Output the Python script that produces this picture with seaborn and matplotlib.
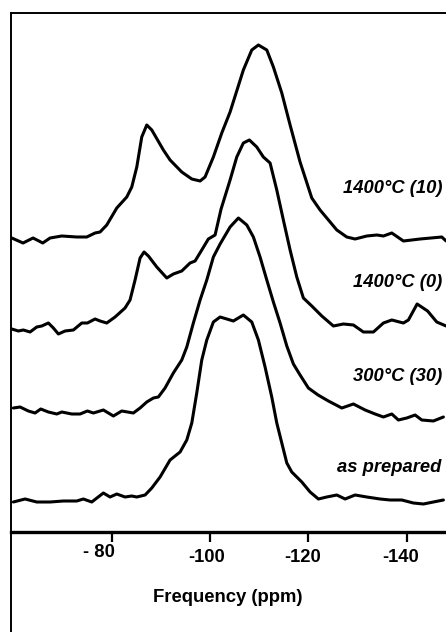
import numpy as np
import pandas as pd
import matplotlib
matplotlib.use("Agg")
import matplotlib.pyplot as plt
from matplotlib import transforms as mtransforms
from matplotlib.lines import Line2D
import seaborn as sns

# ---------------- data ----------------
# 1400°C (10)
ppm_1400_10 = [-59.65, -61.95, -63.99, -65.96, -67.45, -69.83, -72.88, -74.91, -76.60, -77.62,
               -78.98, -81.02, -83.05, -84.07, -85.09, -86.10, -87.12, -88.14, -90.50, -91.86,
               -94.24, -96.28, -97.97, -98.98, -100.67, -102.38, -104.07, -106.77, -108.48, -109.83,
               -111.54, -112.88, -114.59, -116.28, -118.31, -120.69, -122.38, -125.78, -127.81, -129.50,
               -131.88, -133.92, -135.26, -136.97, -139.33, -142.73, -147.14, -148.02]
int_1400_10 = [0.00, -0.05, 0.00, -0.05, 0.00, 0.02, 0.01, 0.01, 0.05, 0.06,
               0.13, 0.30, 0.41, 0.51, 0.71, 1.01, 1.13, 1.08, 0.88, 0.78,
               0.66, 0.59, 0.57, 0.61, 0.81, 1.05, 1.26, 1.68, 1.88, 1.93,
               1.88, 1.71, 1.45, 1.13, 0.76, 0.40, 0.28, 0.08, 0.01, -0.01,
               0.02, 0.03, 0.02, 0.05, -0.03, -0.01, 0.01, -0.03]

# 1400°C (0)
ppm_1400_0 = [-59.65, -61.00, -62.01, -63.38, -64.74, -65.76, -67.10, -68.12, -69.14, -70.50,
              -72.19, -73.90, -75.04, -76.60, -77.62, -78.98, -80.67, -82.70, -83.72, -84.74,
              -85.76, -86.57, -87.45, -89.16, -91.19, -92.53, -94.24, -95.93, -96.95, -98.31,
              -99.65, -101.02, -102.24, -104.07, -105.43, -106.77, -107.99, -109.50, -110.84, -112.21,
              -113.57, -114.91, -116.28, -117.64, -118.98, -120.69, -122.73, -125.09, -127.12, -129.16,
              -131.19, -133.23, -135.26, -136.97, -139.33, -140.35, -142.12, -144.25, -146.12, -148.02]
int_1400_0 = [0.01, -0.01, 0.00, -0.02, 0.03, 0.04, 0.07, 0.02, -0.04, -0.01,
              0.00, 0.07, 0.07, 0.11, 0.09, 0.07, 0.13, 0.22, 0.30, 0.50,
              0.72, 0.78, 0.74, 0.63, 0.52, 0.56, 0.59, 0.67, 0.69, 0.80,
              0.91, 0.95, 1.21, 1.50, 1.73, 1.87, 1.90, 1.83, 1.73, 1.67,
              1.40, 1.10, 0.80, 0.53, 0.32, 0.24, 0.14, 0.04, 0.06, 0.05,
              -0.02, -0.02, 0.07, 0.10, 0.07, 0.10, 0.26, 0.19, 0.08, 0.04]

# 300°C (30)
ppm_300_30 = [-59.98, -61.34, -63.03, -64.39, -65.55, -67.10, -68.81, -69.83, -71.86, -73.55,
              -75.04, -76.26, -78.29, -80.33, -82.03, -84.39, -85.76, -87.12, -88.47, -89.48,
              -90.84, -92.53, -94.24, -95.26, -96.60, -97.97, -99.33, -100.67, -102.04, -104.07,
              -105.76, -107.47, -108.81, -110.17, -111.54, -112.88, -114.24, -115.61, -116.95, -118.31,
              -120.00, -121.97, -124.07, -126.80, -129.16, -131.54, -133.57, -135.26, -136.97, -138.31,
              -140.02, -141.71, -143.07, -145.43, -147.47]
int_300_30 = [0.04, 0.05, 0.01, -0.01, 0.03, 0.00, -0.02, 0.00, -0.02, -0.02,
              0.01, -0.01, 0.02, -0.04, 0.01, -0.01, 0.04, 0.10, 0.14, 0.15,
              0.24, 0.39, 0.52, 0.65, 0.89, 1.12, 1.32, 1.55, 1.68, 1.85,
              1.94, 1.87, 1.75, 1.55, 1.32, 1.10, 0.89, 0.66, 0.48, 0.37,
              0.24, 0.17, 0.11, 0.04, 0.08, 0.02, -0.02, -0.05, -0.02, -0.08,
              -0.06, -0.03, -0.08, -0.09, -0.05]

# as prepared
ppm_prepared = [-59.98, -62.36, -64.74, -67.45, -70.15, -72.88, -74.22, -75.93, -78.29, -79.65,
                -81.02, -82.70, -84.07, -85.09, -86.78, -88.14, -89.83, -91.86, -93.90, -95.26,
                -96.28, -97.29, -98.31, -99.33, -100.67, -102.04, -103.40, -104.74, -106.77, -108.48,
                -109.83, -111.19, -112.55, -113.57, -114.59, -115.61, -116.62, -118.66, -120.35, -122.04,
                -123.74, -125.78, -127.47, -129.50, -131.88, -134.59, -136.62, -139.00, -141.36, -143.40,
                -145.43, -147.47]
int_prepared = [0.00, 0.03, 0.00, 0.00, 0.01, 0.01, 0.03, 0.00, 0.09, 0.05,
                0.08, 0.05, 0.06, 0.05, 0.07, 0.14, 0.25, 0.42, 0.50, 0.62,
                0.79, 1.09, 1.42, 1.62, 1.80, 1.85, 1.83, 1.81, 1.87, 1.80,
                1.62, 1.35, 1.05, 0.79, 0.59, 0.39, 0.30, 0.20, 0.10, 0.03,
                0.05, 0.07, 0.03, 0.07, 0.05, 0.03, 0.02, 0.02, -0.01, -0.02,
                0.00, 0.02]

sample_labels = ["1400°C (10)", "1400°C (0)", "300°C (30)", "as prepared"]
tick_values = [-80, -100, -120, -140]
tick_labels = ["- 80", "-100", "-120", "-140"]
x_label = "Frequency (ppm)"

# ---------------- styling / layout ----------------
W, H, DPI = 446, 632, 100
stack_offsets = [2.94, 2.02, 1.20, 0.30]          # vertical stacking of the spectra
label_pos = [(-127.0, 3.39), (-129.0, 2.45), (-129.0, 1.51), (-125.9, 0.603)]
tick_shift_px = [(-13, 5), (-3.5, 0), (-6, 0), (-5.7, 0)]

sns.set_theme(style="white")
plt.rcParams["font.family"] = ["Liberation Sans", "DejaVu Sans"]

fig = plt.figure(figsize=(W / DPI, H / DPI), dpi=DPI)
fig.patch.set_facecolor("white")
ax_left, ax_right, ax_top, ax_bottom = 11, 505, 13, 532
ax = fig.add_axes([ax_left / W, (H - ax_bottom) / H,
                   (ax_right - ax_left) / W, (ax_bottom - ax_top) / H])
ax.set_facecolor("white")

series = [(ppm_1400_10, int_1400_10), (ppm_1400_0, int_1400_0),
          (ppm_300_30, int_300_30), (ppm_prepared, int_prepared)]
for (ppm, inten), off, name in zip(series, stack_offsets, sample_labels):
    df = pd.DataFrame({"ppm": ppm, "y": np.asarray(inten) + off})
    sns.lineplot(data=df, x="ppm", y="y", sort=False, estimator=None,
                 color="black", lw=2.2, ax=ax)

ax.set_xlim(-59.5, -160)
ax.set_ylim(0, 5.19)
ax.set_yticks([])
ax.set_ylabel("")
ax.set_xticks(tick_values)
ax.set_xticklabels(tick_labels, fontweight="bold", fontsize=13.2)
ax.tick_params(axis="x", bottom=True, direction="out", length=7, width=1.6,
               pad=5.5, colors="black")

for s in ["top", "left"]:
    ax.spines[s].set_visible(True)
    ax.spines[s].set_linewidth(1.4)
    ax.spines[s].set_color("black")
ax.spines["bottom"].set_linewidth(2.4)
ax.spines["bottom"].set_color("black")
ax.spines["right"].set_visible(False)

for lbl, (dx, dy) in zip(ax.get_xticklabels(), tick_shift_px):
    lbl.set_transform(lbl.get_transform() +
                      mtransforms.ScaledTranslation(dx / DPI, dy / DPI, fig.dpi_scale_trans))

for name, (xp, yp) in zip(sample_labels, label_pos):
    ax.text(xp, yp, name, ha="left", va="baseline", fontsize=13.2,
            fontweight="bold", fontstyle="italic", color="black", clip_on=False)

ax.set_xlabel(x_label, fontsize=13.3, fontweight="bold", color="black")
ax.xaxis.set_label_coords((228 - ax_left) / (ax_right - ax_left),
                          -(589 - ax_bottom) / (ax_bottom - ax_top))

# left frame line continues below the axis to the bottom of the figure
fig.add_artist(Line2D([ax_left / W, ax_left / W], [0, (H - ax_bottom) / H],
                      transform=fig.transFigure, color="black", lw=1.4))

fig.savefig("out.png", dpi=DPI, facecolor="white")
